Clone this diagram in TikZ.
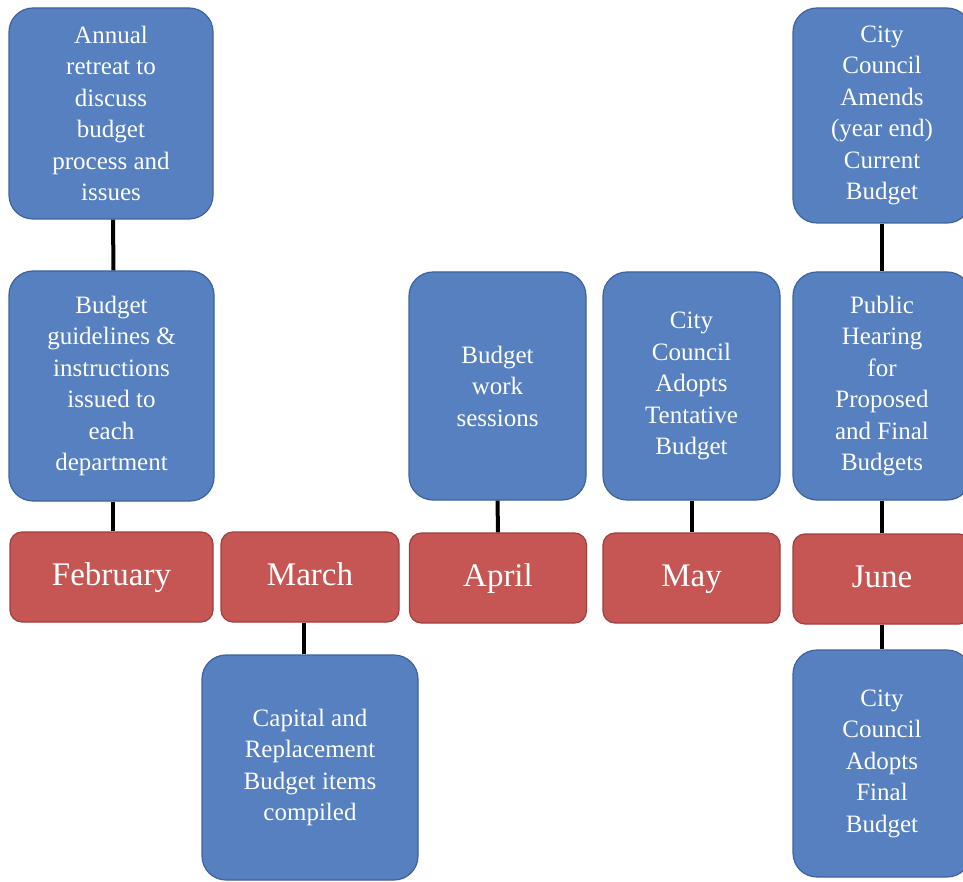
\documentclass[tikz,border=0pt]{standalone}
\usepackage{fontspec}
\setmainfont{Liberation Serif}
\definecolor{bfill}{RGB}{86,128,192}
\definecolor{bdraw}{RGB}{62,98,158}
\definecolor{rfill}{RGB}{198,86,84}
\definecolor{rdraw}{RGB}{160,62,62}
\tikzset{
  task/.style={draw=bdraw, line width=1.2pt, fill=bfill, rounded corners=24pt,
    text=white, align=center, inner sep=2pt,
    font=\fontsize{25}{31.5}\selectfont},
  month/.style={draw=rdraw, line width=1.2pt, fill=rfill, rounded corners=12pt,
    text=white, align=center, inner sep=2pt, text height=23pt, text depth=7pt,
    font=\fontsize{33}{36}\selectfont},
  link/.style={line width=4pt, black}
}
\begin{document}
\begin{tikzpicture}[x=1pt,y=-1pt]
\useasboundingbox (0,0) rectangle (963,882);
\begin{scope}
\clip (0,0) rectangle (963,882);
% months
\node[month, minimum width=203pt, minimum height=90pt] (feb) at (111.5,577) {February};
\node[month, minimum width=178pt, minimum height=90pt] (mar) at (310,577) {March};
\node[month, minimum width=177pt, minimum height=90pt] (apr) at (498,578) {April};
\node[month, minimum width=177pt, minimum height=90pt] (may) at (691.5,578) {May};
\node[month, minimum width=178pt, minimum height=90pt] (jun) at (882,579) {June};
% tasks
\node[task, minimum width=204pt, minimum height=211pt] (f1) at (111,113.5)
  {Annual\\retreat to\\discuss\\budget\\process and\\issues};
\node[task, minimum width=205pt, minimum height=230pt] (f2) at (111.5,386)
  {Budget\\guidelines \&\\instructions\\issued to\\each\\department};
\node[task, minimum width=216pt, minimum height=225pt] (m1) at (310,767.5)
  {Capital and\\Replacement\\Budget items\\compiled};
\node[task, minimum width=177pt, minimum height=228pt] (a1) at (497.5,386)
  {Budget\\work\\sessions};
\node[task, minimum width=177pt, minimum height=228pt] (y1) at (691.5,386)
  {City\\Council\\Adopts\\Tentative\\Budget};
\node[task, minimum width=178pt, minimum height=215pt] (j1) at (882,115.5)
  {City\\Council\\Amends\\(year end)\\Current\\Budget};
\node[task, minimum width=178pt, minimum height=228pt] (j2) at (882,386)
  {Public\\Hearing\\for\\Proposed\\and Final\\Budgets};
\node[task, minimum width=178pt, minimum height=227pt] (j3) at (882,763.5)
  {City\\Council\\Adopts\\Final\\Budget};
\end{scope}
% connectors
\draw[link] ([xshift=2pt]f1.south) -- ([xshift=2pt]f2.north);
\draw[link] ([xshift=1.5pt]f2.south) -- ([xshift=1.5pt]feb.north);
\draw[link] ([xshift=-6pt]mar.south) -- ([xshift=-6pt]m1.north);
\draw[link] (a1.south) -- (apr.north);
\draw[link] (y1.south) -- (may.north);
\draw[link] (j1.south) -- (j2.north);
\draw[link] (j2.south) -- (jun.north);
\draw[link] (jun.south) -- (j3.north);
\end{tikzpicture}
\end{document}
